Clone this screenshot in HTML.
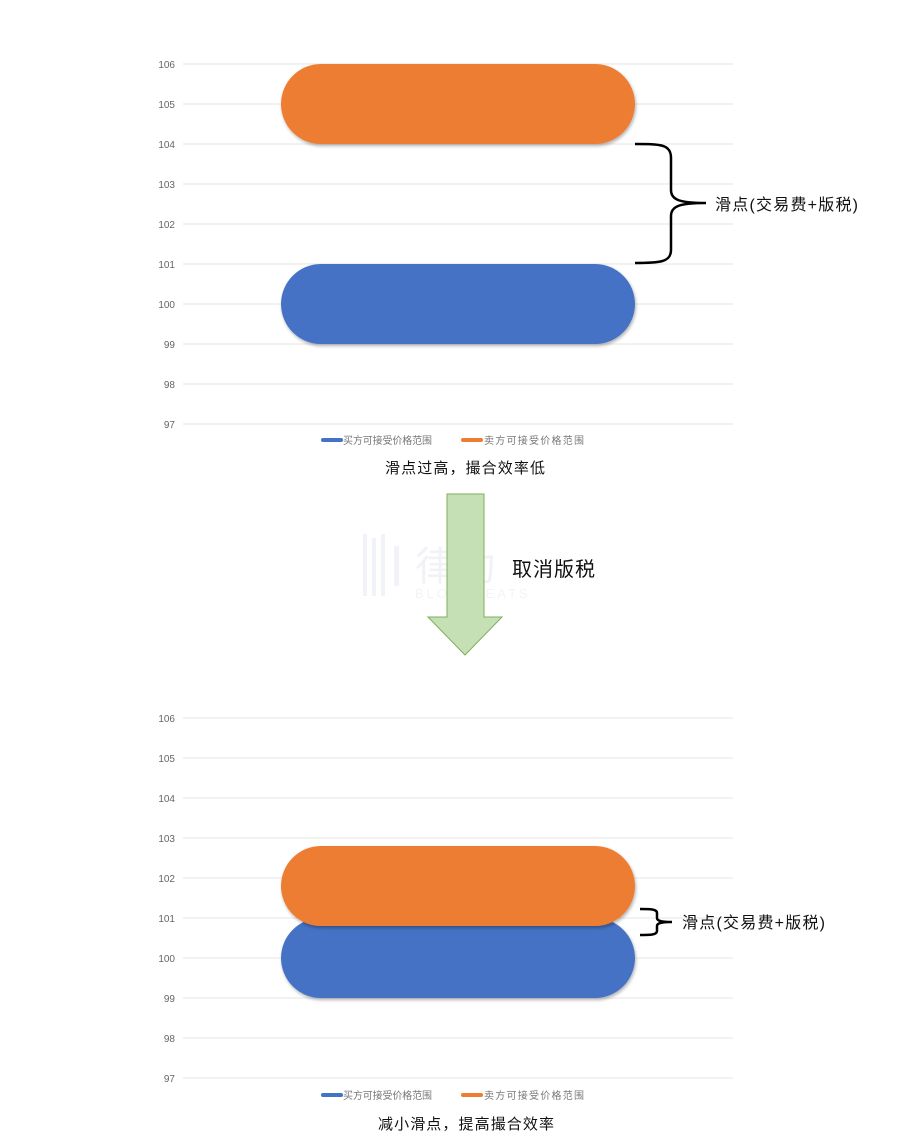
<!DOCTYPE html>
<html><head><meta charset="utf-8"><style>
html,body{margin:0;padding:0;background:#fff;width:903px;height:1134px;overflow:hidden}
svg{display:block}
text{font-family:"Liberation Sans","Noto Sans CJK SC",sans-serif}
</style></head><body>
<svg width="903" height="1134" viewBox="0 0 903 1134" xmlns="http://www.w3.org/2000/svg">
<defs>
<filter id="sh" x="-10%" y="-20%" width="120%" height="150%"><feDropShadow dx="1" dy="2" stdDeviation="1.5" flood-color="#000" flood-opacity="0.3"/></filter>
</defs>
<g stroke="#e6e6e6" stroke-width="1">
<line x1="183" y1="64" x2="733" y2="64"/><line x1="183" y1="104" x2="733" y2="104"/><line x1="183" y1="144" x2="733" y2="144"/><line x1="183" y1="184" x2="733" y2="184"/><line x1="183" y1="224" x2="733" y2="224"/><line x1="183" y1="264" x2="733" y2="264"/><line x1="183" y1="304" x2="733" y2="304"/><line x1="183" y1="344" x2="733" y2="344"/><line x1="183" y1="384" x2="733" y2="384"/><line x1="183" y1="424" x2="733" y2="424"/>
<line x1="183" y1="718" x2="733" y2="718"/><line x1="183" y1="758" x2="733" y2="758"/><line x1="183" y1="798" x2="733" y2="798"/><line x1="183" y1="838" x2="733" y2="838"/><line x1="183" y1="878" x2="733" y2="878"/><line x1="183" y1="918" x2="733" y2="918"/><line x1="183" y1="958" x2="733" y2="958"/><line x1="183" y1="998" x2="733" y2="998"/><line x1="183" y1="1038" x2="733" y2="1038"/><line x1="183" y1="1078" x2="733" y2="1078"/>
</g>
<g font-size="10" fill="#666" text-anchor="end">
<text x="175" y="68">106</text><text x="175" y="108">105</text><text x="175" y="148">104</text><text x="175" y="188">103</text><text x="175" y="228">102</text><text x="175" y="268">101</text><text x="175" y="308">100</text><text x="175" y="348">99</text><text x="175" y="388">98</text><text x="175" y="428">97</text>
<text x="175" y="722">106</text><text x="175" y="762">105</text><text x="175" y="802">104</text><text x="175" y="842">103</text><text x="175" y="882">102</text><text x="175" y="922">101</text><text x="175" y="962">100</text><text x="175" y="1002">99</text><text x="175" y="1042">98</text><text x="175" y="1082">97</text>
</g>
<g fill="#f1f3f8">
<rect x="363" y="534" width="4" height="62"/><rect x="372" y="538" width="4" height="58"/><rect x="381" y="534" width="4" height="62"/><rect x="394" y="546" width="5" height="40"/>
<text x="415" y="580" font-size="40" fill="#f1f2f5">律动</text>
<text x="415" y="598" font-size="13" fill="#f3f4f7" letter-spacing="3">BLOCKBEATS</text>
</g>
<rect x="281" y="64" width="354" height="80" rx="40" fill="#ed7d31" filter="url(#sh)"/>
<rect x="281" y="264" width="354" height="80" rx="40" fill="#4472c4" filter="url(#sh)"/>
<rect x="281" y="918" width="354" height="80" rx="40" fill="#4472c4" filter="url(#sh)"/>
<rect x="281" y="846" width="354" height="80" rx="40" fill="#ed7d31" filter="url(#sh)"/>
<g font-size="10" fill="#777">
<line x1="323" y1="440" x2="341" y2="440" stroke="#4472c4" stroke-width="4" stroke-linecap="round"/><text x="343" y="444" textLength="89">买方可接受价格范围</text>
<line x1="463" y1="440" x2="481" y2="440" stroke="#ed7d31" stroke-width="4" stroke-linecap="round"/><text x="484" y="444" textLength="100">卖方可接受价格范围</text>
<line x1="323" y1="1095" x2="341" y2="1095" stroke="#4472c4" stroke-width="4" stroke-linecap="round"/><text x="343" y="1099" textLength="89">买方可接受价格范围</text>
<line x1="463" y1="1095" x2="481" y2="1095" stroke="#ed7d31" stroke-width="4" stroke-linecap="round"/><text x="484" y="1099" textLength="100">卖方可接受价格范围</text>
</g>
<text x="385" y="473" font-size="15" fill="#111" textLength="160">滑点过高，撮合效率低</text>
<text x="378" y="1129" font-size="15" fill="#111" textLength="176">减小滑点，提高撮合效率</text>
<path d="M447,494 H484 V617 H502 L465,655 L428,617 H447 Z" fill="#c5e0b4" stroke="#7fae5e" stroke-width="1"/>
<text x="512" y="576" font-size="20" fill="#111" textLength="83">取消版税</text>
<path d="M635,144 C660,144 671,144 671,158 V190 C671,200 680,203 706,203 C680,203 671,206 671,216 V250 C671,262 660,263 635,263" fill="none" stroke="#000" stroke-width="2.5"/>
<text x="715" y="210" font-size="16" fill="#111" textLength="143">滑点(交易费+版税)</text>
<path d="M640,909 C650,909 657,909 657,913 V918 C657,921 662,922 672,922 C662,922 657,923 657,926 V931 C657,935 650,935 640,935" fill="none" stroke="#000" stroke-width="2.5"/>
<text x="682" y="928" font-size="16" fill="#111" textLength="143">滑点(交易费+版税)</text>
</svg>
</body></html>
